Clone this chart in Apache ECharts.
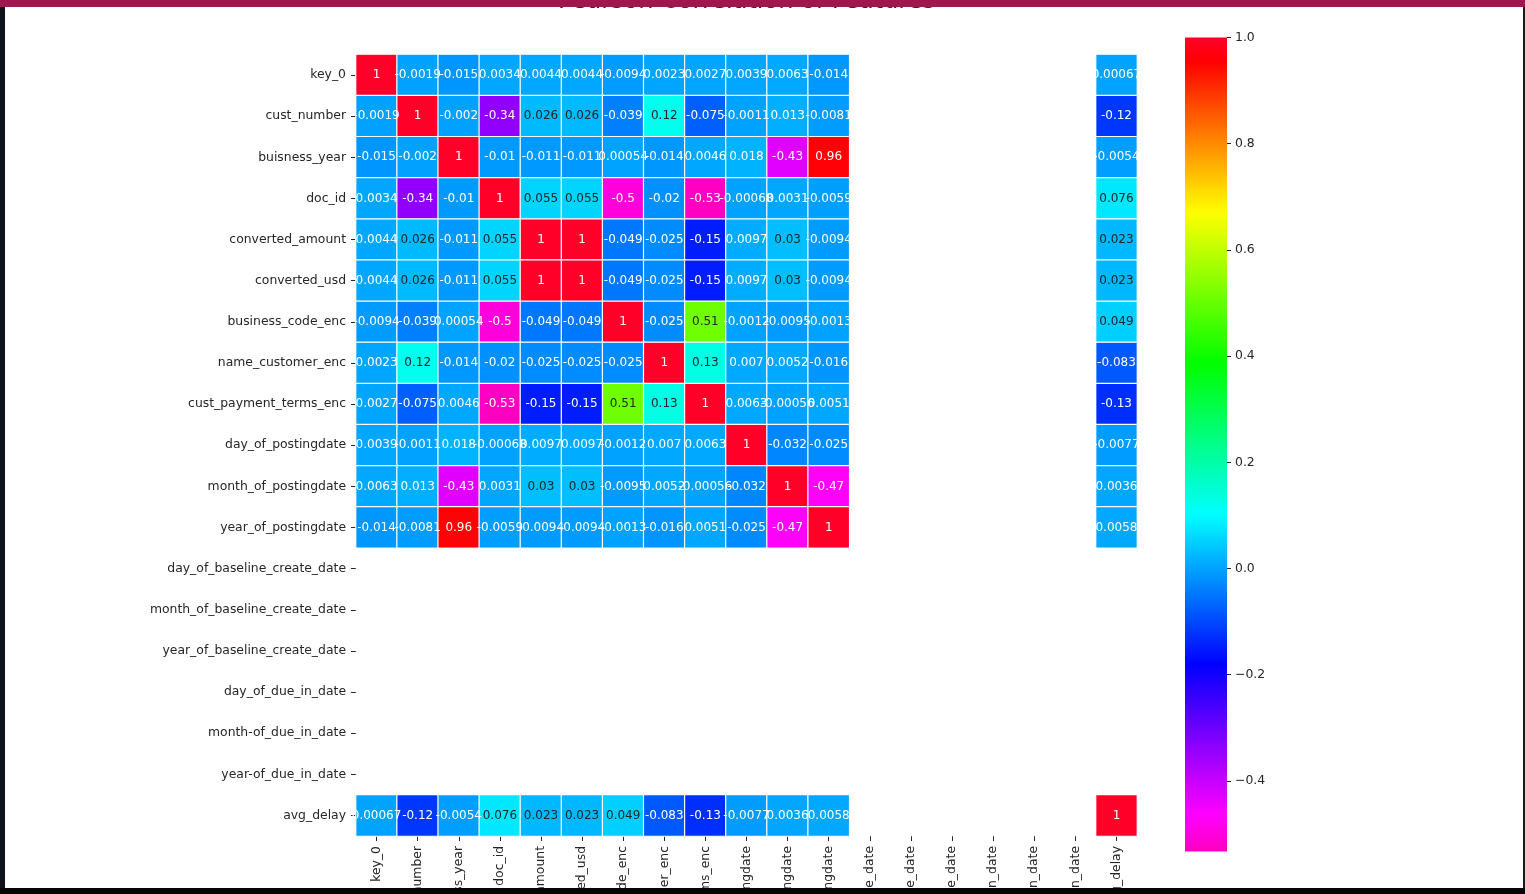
<!DOCTYPE html>
<html><head><meta charset="utf-8">
<script src="https://cdn.jsdelivr.net/npm/echarts@6/dist/echarts.min.js"></script>
<style>
html,body{margin:0;padding:0;background:#fff;overflow:hidden;}
#chart{position:absolute;left:0;top:0;width:1525px;height:894px;}
.edge{position:absolute;z-index:10;}
</style></head><body>
<div id="chart"></div>
<div class="edge" style="left:0;top:0;width:1525px;height:7px;background:#a1164e"></div>
<div class="edge" style="left:0;top:7px;width:5px;height:887px;background:#10131a"></div>
<div class="edge" style="left:0;top:888px;width:1525px;height:6px;background:#060606"></div>
<div class="edge" style="left:1523px;top:7px;width:2px;height:881px;background:#1a1a1a"></div>
<script>
const features = ['key_0','cust_number','buisness_year','doc_id','converted_amount','converted_usd',
  'business_code_enc','name_customer_enc','cust_payment_terms_enc','day_of_postingdate',
  'month_of_postingdate','year_of_postingdate','day_of_baseline_create_date',
  'month_of_baseline_create_date','year_of_baseline_create_date','day_of_due_in_date',
  'month-of_due_in_date','year-of_due_in_date','avg_delay'];
const N = null;
const corr = [
 [1,-0.0019,-0.015,0.0034,0.0044,0.0044,-0.0094,0.0023,0.0027,0.0039,0.0063,-0.014,N,N,N,N,N,N,0.00067],
 [-0.0019,1,-0.002,-0.34,0.026,0.026,-0.039,0.12,-0.075,-0.0011,0.013,-0.0081,N,N,N,N,N,N,-0.12],
 [-0.015,-0.002,1,-0.01,-0.011,-0.011,0.00054,-0.014,0.0046,0.018,-0.43,0.96,N,N,N,N,N,N,-0.0054],
 [0.0034,-0.34,-0.01,1,0.055,0.055,-0.5,-0.02,-0.53,-0.00068,0.0031,-0.0059,N,N,N,N,N,N,0.076],
 [0.0044,0.026,-0.011,0.055,1,1,-0.049,-0.025,-0.15,0.0097,0.03,-0.0094,N,N,N,N,N,N,0.023],
 [0.0044,0.026,-0.011,0.055,1,1,-0.049,-0.025,-0.15,0.0097,0.03,-0.0094,N,N,N,N,N,N,0.023],
 [-0.0094,-0.039,0.00054,-0.5,-0.049,-0.049,1,-0.025,0.51,-0.0012,-0.0095,-0.0013,N,N,N,N,N,N,0.049],
 [0.0023,0.12,-0.014,-0.02,-0.025,-0.025,-0.025,1,0.13,0.007,0.0052,-0.016,N,N,N,N,N,N,-0.083],
 [0.0027,-0.075,0.0046,-0.53,-0.15,-0.15,0.51,0.13,1,0.0063,-0.00056,0.0051,N,N,N,N,N,N,-0.13],
 [0.0039,-0.0011,0.018,-0.00068,0.0097,0.0097,-0.0012,0.007,0.0063,1,-0.032,-0.025,N,N,N,N,N,N,-0.0077],
 [0.0063,0.013,-0.43,0.0031,0.03,0.03,-0.0095,0.0052,-0.00056,-0.032,1,-0.47,N,N,N,N,N,N,0.0036],
 [-0.014,-0.0081,0.96,-0.0059,-0.0094,-0.0094,-0.0013,-0.016,0.0051,-0.025,-0.47,1,N,N,N,N,N,N,0.0058],
 [N,N,N,N,N,N,N,N,N,N,N,N,N,N,N,N,N,N,N],
 [N,N,N,N,N,N,N,N,N,N,N,N,N,N,N,N,N,N,N],
 [N,N,N,N,N,N,N,N,N,N,N,N,N,N,N,N,N,N,N],
 [N,N,N,N,N,N,N,N,N,N,N,N,N,N,N,N,N,N,N],
 [N,N,N,N,N,N,N,N,N,N,N,N,N,N,N,N,N,N,N],
 [N,N,N,N,N,N,N,N,N,N,N,N,N,N,N,N,N,N,N],
 [0.00067,-0.12,-0.0054,0.076,0.023,0.023,0.049,-0.083,-0.13,-0.0077,0.0036,0.0058,N,N,N,N,N,N,1]
];
const colorbarTicks = [-0.4,-0.2,0,0.2,0.4,0.6,0.8,1.0];
const vmin = -0.533, vmax = 1.0;

// gist_rainbow colormap (reversed)
const stops = [[0,[1,0,0.16]],[0.03,[1,0,0]],[0.215,[1,1,0]],[0.4,[0,1,0]],[0.586,[0,1,1]],[0.77,[0,0,1]],[0.954,[1,0,1]],[1,[1,0,0.75]]];
function cmap(t){
  const p = 1 - Math.max(0, Math.min(1, t));
  for (let i = 1; i < stops.length; i++) {
    if (p <= stops[i][0]) {
      const a = stops[i-1], b = stops[i];
      const f = (p - a[0]) / (b[0] - a[0]);
      return a[1].map((c,k) => c + (b[1][k] - c) * f);
    }
  }
  return stops[stops.length-1][1];
}
function css(rgb){ return 'rgb(' + rgb.map(c => Math.round(c*255)).join(',') + ')'; }
function colorOf(v){ return cmap((v - vmin) / (vmax - vmin)); }
const colors = [];
for (let i = 0; i <= 120; i++) colors.push(css(cmap(i/120)));
function lum(rgb){
  const l = rgb.map(c => c <= 0.03928 ? c/12.92 : Math.pow((c+0.055)/1.055, 2.4));
  return 0.2126*l[0] + 0.7152*l[1] + 0.0722*l[2];
}
function gradient(vTop, vBottom){
  const cs = [];
  for (let i = 0; i <= 100; i++) {
    const o = i/100;
    cs.push({ offset: o, color: css(colorOf(vTop + (vBottom - vTop) * o)) });
  }
  return new echarts.graphic.LinearGradient(0, 0, 0, 1, cs);
}

const cells = [], blanks = [];
for (let r = 0; r < features.length; r++) {
  for (let c = 0; c < features.length; c++) {
    const v = corr[r][c];
    if (v === null) { blanks.push([c, r, 0]); continue; }
    cells.push({ value: [c, r, v], label: { color: lum(colorOf(v)) > 0.408 ? '#262626' : '#ffffff' } });
  }
}

const font = 'DejaVu Sans';
const chart = echarts.init(document.getElementById('chart'));
chart.setOption({
  animation: false,
  backgroundColor: '#ffffff',
  graphic: [{
    type: 'text', x: 746.5, y: 13.5, z: 1,
    style: { text: 'Pearson Correlation of Features', font: '24px "DejaVu Sans"', fill: '#262626', align: 'center', verticalAlign: 'bottom' }
  }],
  grid: [
    { left: 356, top: 54.5, width: 781, height: 781.5, containLabel: false, outerBoundsMode: 'none' },
    { left: 1185, top: 37.5, width: 42, height: 814, containLabel: false, outerBoundsMode: 'none' }
  ],
  xAxis: [
    { type: 'category', gridIndex: 0, data: features, position: 'bottom',
      axisLine: { show: false }, splitLine: { show: false },
      axisTick: { show: true, length: 5, alignWithLabel: true, lineStyle: { color: '#262626', width: 1 } },
      axisLabel: { rotate: 90, interval: 0, margin: 10, fontSize: 12.4, color: '#262626', fontFamily: font } },
    { type: 'category', gridIndex: 1, show: false, data: ['colorbar'] }
  ],
  yAxis: [
    { type: 'category', gridIndex: 0, data: features, inverse: true,
      axisLine: { show: false }, splitLine: { show: false },
      axisTick: { show: true, length: 5, alignWithLabel: true, lineStyle: { color: '#262626', width: 1 } },
      axisLabel: { interval: 0, margin: 10, fontSize: 12.4, color: '#262626', fontFamily: font } },
    { type: 'value', gridIndex: 1, min: vmin, max: vmax, position: 'right',
      axisLine: { show: false }, splitLine: { show: false },
      axisTick: { show: true, length: 4, customValues: colorbarTicks, lineStyle: { color: '#262626', width: 1 } },
      axisLabel: { customValues: colorbarTicks, margin: 8, fontSize: 12.4, color: '#262626', fontFamily: font,
        formatter: v => v.toFixed(1).replace('-', '\u2212') } }
  ],
  visualMap: {
    type: 'continuous', seriesIndex: 0, min: vmin, max: vmax, show: false,
    inRange: { color: colors }
  },
  series: [
    { type: 'heatmap', xAxisIndex: 0, yAxisIndex: 0, data: cells, z: 2,
      itemStyle: { borderColor: '#ffffff', borderWidth: 1.2 },
      label: { show: true, fontSize: 12, fontFamily: font, formatter: p => String(p.value[2]) },
      emphasis: { disabled: true } },
    { type: 'heatmap', xAxisIndex: 0, yAxisIndex: 0, data: blanks, z: 3, silent: true,
      itemStyle: { color: '#ffffff', borderWidth: 0 }, label: { show: false },
      emphasis: { disabled: true } },
    { type: 'custom', xAxisIndex: 1, yAxisIndex: 1, silent: true,
      data: [[0, vmin, vmax]],
      renderItem: function (params, api) {
        const top = api.coord([api.value(0), api.value(2)]);
        const bot = api.coord([api.value(0), api.value(1)]);
        const w = api.size([1, 0])[0];
        return { type: 'rect',
          shape: { x: top[0] - w / 2, y: top[1], width: w, height: bot[1] - top[1] },
          style: { fill: gradient(vmax, vmin) } };
      } }
  ]
});
</script>
</body></html>
